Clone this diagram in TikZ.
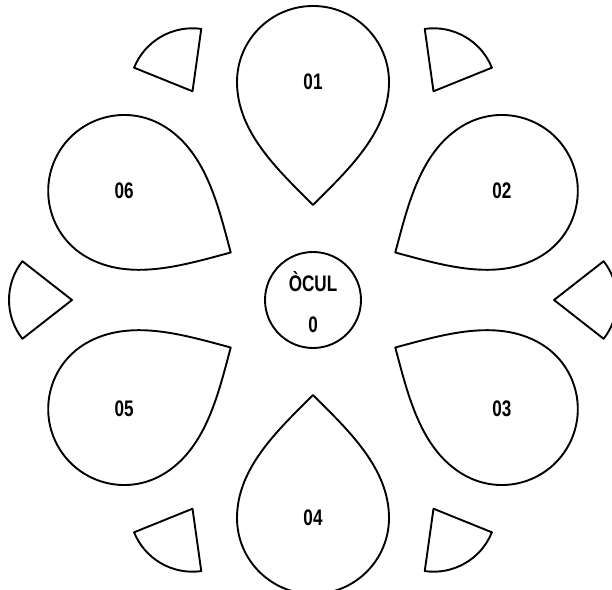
\documentclass[tikz,border=0pt]{standalone}
\usepackage{fontspec}
\newfontfamily\lblfont{Liberation Sans Bold}[FakeStretch=0.76]
\usetikzlibrary{calc}
\tikzset{
  outline/.style={draw=black, line width=1.9pt, line join=round},
  lbl/.style={inner sep=0pt, font=\lblfont\fontsize{22.5}{22.5}\selectfont}
}
\begin{document}
\begin{tikzpicture}[x=1pt,y=1pt]
\useasboundingbox (0,0) rectangle (612,589);
\coordinate (C) at (313,289);
% petals
\foreach \a/\l in {90/01,30/02,-30/03,-90/04,-150/05,150/06} {
  \begin{scope}[shift={(C)}, rotate=\a-90]
    \draw[outline] (0,95) .. controls (-35,130) and (-76,168) .. (-76,218)
      arc[start angle=180, end angle=0, radius=76]
      .. controls (76,168) and (35,130) .. cycle;
  \end{scope}
  \node[lbl] (p\l) at ($(C)+(\a:218)$) {\l};
}
% wedges
\foreach \b in {0,60,120,180,240,300} {
  \draw[outline] ($(C)+(\b:241)$) coordinate (w\b) -- ++(\b+38:63)
    arc[start angle=\b+38, end angle=\b-38, radius=63] -- cycle;
}
% centre
\node[outline, circle, minimum size=96pt, inner sep=0pt] (eye) at (C) {};
\node[lbl, anchor=base] (ocul) at ($(C)+(0,8)$) {ÒCUL};
\node[lbl, anchor=base] (zero) at ($(C)+(0,-33)$) {0};
\end{tikzpicture}
\end{document}
